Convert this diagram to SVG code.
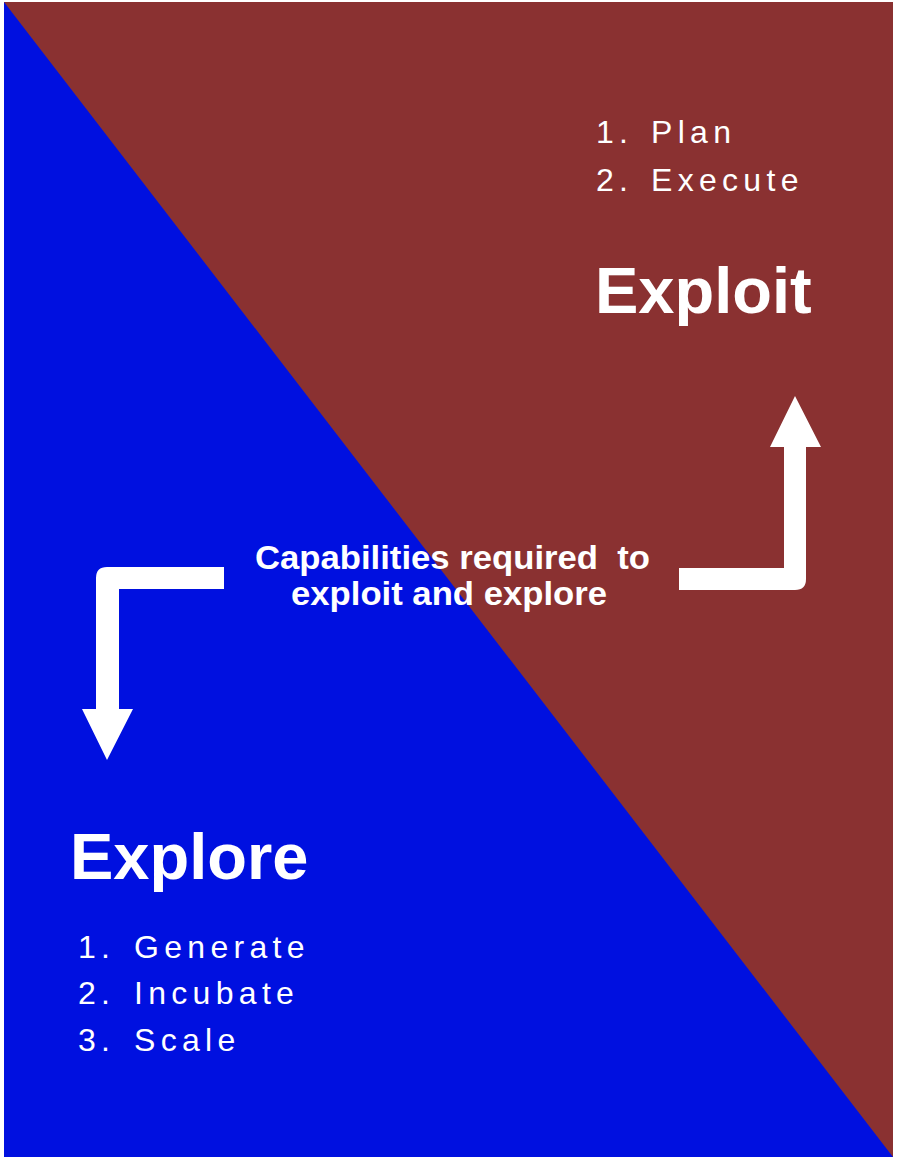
<svg xmlns="http://www.w3.org/2000/svg" width="897" height="1159" viewBox="0 0 897 1159">
  <style>
    .head { font-family: "Liberation Sans", Arial, sans-serif; font-weight: bold; font-size: 65px; fill: #ffffff; }
    .item { font-family: "Liberation Sans", Arial, sans-serif; font-size: 32px; fill: #ffffff; letter-spacing: 5.3px; }
    .caption { font-family: "Liberation Sans", Arial, sans-serif; font-weight: bold; font-size: 33px; fill: #ffffff; }
    .arrow { fill: #ffffff; }
  </style>
  <rect width="897" height="1159" fill="#ffffff"/>

  <!-- split background: explore (blue) below the diagonal, exploit (brown) above -->
  <g id="background">
    <rect x="4" y="2" width="889" height="1155" fill="#0010E0"/>
    <polygon points="4,2 893,2 893,1157" fill="#8A3131"/>
  </g>

  <g id="connectors">
    <!-- bend up towards Exploit -->
    <path class="arrow" d="M679,568 H784 V447 H770 L795,396 L821,447 H806 V579 Q806,590 795,590 H679 Z"/>
    <!-- bend down towards Explore -->
    <path class="arrow" d="M224,567 V589 H119 V709 H133 L107,760 L82,709 H96 V578 Q96,567 107,567 Z"/>
  </g>

  <g id="capabilities">
    <text class="caption" x="255" y="569" textLength="395" lengthAdjust="spacingAndGlyphs" xml:space="preserve">Capabilities required  to</text>
    <text class="caption" x="291" y="605" textLength="316" lengthAdjust="spacingAndGlyphs">exploit and explore</text>
  </g>

  <g id="exploit">
    <text class="item" x="596" y="143">1.</text>
    <text class="item" x="651" y="143">Plan</text>
    <text class="item" x="596" y="191">2.</text>
    <text class="item" x="651" y="191">Execute</text>
    <text class="head" x="595" y="313">Exploit</text>
  </g>

  <g id="explore">
    <text class="head" x="70" y="879">Explore</text>
    <text class="item" x="78" y="958">1.</text>
    <text class="item" x="134" y="958">Generate</text>
    <text class="item" x="78" y="1004">2.</text>
    <text class="item" x="134" y="1004">Incubate</text>
    <text class="item" x="78" y="1051">3.</text>
    <text class="item" x="134" y="1051">Scale</text>
  </g>
</svg>
